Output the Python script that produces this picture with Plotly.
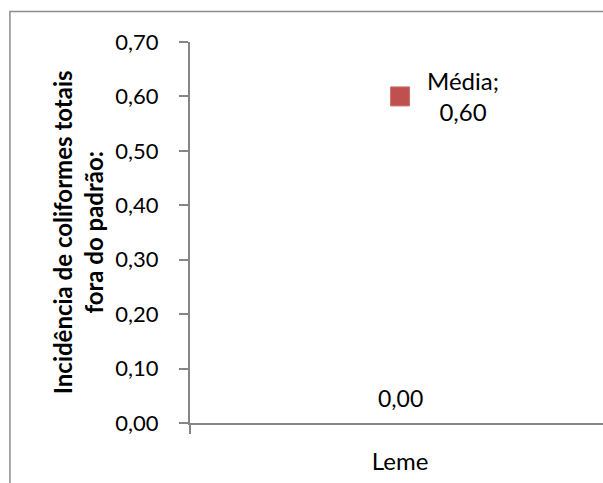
import plotly.graph_objects as go

# Data
categories = ["Leme"]
media_values = [0.60]
base_values = [0.00]
series_name = "Média"
y_title_lines = ["Incidência de coliformes totais", "fora do padrão:"]
y_tick_values = [0.0, 0.1, 0.2, 0.3, 0.4, 0.5, 0.6, 0.7]

FONT = "Lato, Calibri, 'Open Sans', sans-serif"
AXIS_GRAY = "#868686"
RED = "#C0504D"


def fmt(v):
    return f"{v:.2f}".replace(".", ",")


fig = go.Figure()

# Invisible baseline series (value shown as a label only)
fig.add_trace(go.Scatter(
    x=categories, y=base_values, mode="markers",
    marker=dict(size=1, color="rgba(0,0,0,0)"),
    hoverinfo="skip", showlegend=False,
))

# Mean series: red square marker
fig.add_trace(go.Scatter(
    x=categories, y=media_values, mode="markers",
    marker=dict(symbol="square", size=19, color=RED,
                line=dict(width=1, color="#C9706D")),
    name=series_name, showlegend=False,
))

annotations = []
for c, v in zip(categories, media_values):
    annotations.append(dict(
        x=c, y=v, xref="x", yref="y",
        text=f"{series_name};<br>{fmt(v)}",
        showarrow=False, xanchor="center", yanchor="middle",
        xshift=63, font=dict(family=FONT, size=24, color="black"),
    ))
for c, v in zip(categories, base_values):
    annotations.append(dict(
        x=c, y=v, xref="x", yref="y",
        text=fmt(v), showarrow=False,
        xanchor="center", yanchor="middle", yshift=25,
        font=dict(family=FONT, size=23, color="black"),
    ))

# Rotated two-line axis title
annotations.append(dict(
    x=-0.272, y=0.5, xref="paper", yref="paper",
    text="<b>" + "<br>".join(y_title_lines) + "</b>",
    textangle=-90, showarrow=False,
    xanchor="center", yanchor="middle",
    font=dict(family=FONT, size=24, color="black"),
))

# Chart-area border
shapes = [dict(
    type="rect", xref="paper", yref="paper",
    x0=-0.436, x1=1.1, y0=-0.3, y1=1.080,
    line=dict(color="#8C8C8C", width=1.5), layer="below",
)]

fig.update_layout(
    width=603, height=483,
    margin=dict(l=190, r=0, t=42, b=60),
    paper_bgcolor="white", plot_bgcolor="white",
    separators=",.",
    font=dict(family=FONT, size=22, color="black"),
    annotations=annotations, shapes=shapes,
    showlegend=False,
)

fig.update_xaxes(
    type="category", range=[-0.5, 0.483],
    showline=True, linecolor=AXIS_GRAY, linewidth=2,
    ticks="outside", tickson="boundaries", ticklen=9,
    tickcolor=AXIS_GRAY, tickwidth=2,
    showgrid=False, zeroline=False,
    ticklabelstandoff=16,
    tickfont=dict(family=FONT, size=24, color="black"),
)
fig.update_yaxes(
    range=[0, 0.7], tickvals=y_tick_values, tickformat=".2f",
    showline=True, linecolor=AXIS_GRAY, linewidth=2,
    ticks="outside", ticklen=9, tickcolor=AXIS_GRAY, tickwidth=2,
    showgrid=False, zeroline=False,
    ticklabelstandoff=16,
    tickfont=dict(family=FONT, size=22, color="black"),
)

fig.write_html("out.html")
